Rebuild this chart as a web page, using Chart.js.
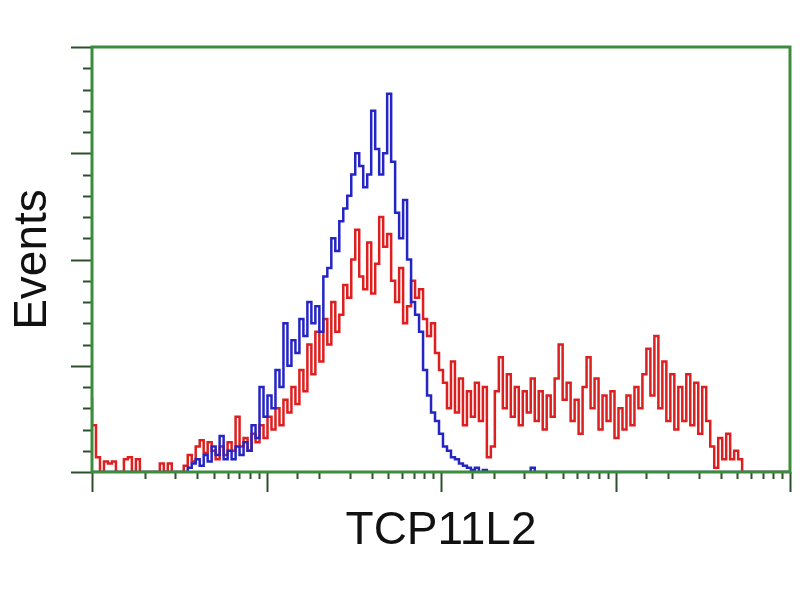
<!DOCTYPE html>
<html>
<head>
<meta charset="utf-8">
<script src="https://cdn.jsdelivr.net/npm/chart.js@4/dist/chart.umd.min.js"></script>
<style>
  html, body { margin: 0; padding: 0; background: #fff; }
  canvas { display: block; }
</style>
</head>
<body>
<canvas id="histo" width="800" height="600"></canvas>
<script>
// channel counts, 175 bins spread over 4 log decades
const redCounts = [
  35, 22, 7, 0, 5, 4, 5, 0, 0, 6,
  7, 0, 6, 0, 0, 0, 0, 0, 4, 0,
  4, 0, 0, 0, 3, 8, 5, 12, 15, 9,
  14, 10, 6, 12, 8, 14, 10, 26, 12, 16,
  10, 18, 14, 22, 16, 26, 20, 30, 22, 34,
  28, 40, 32, 48, 38, 60, 46, 66, 52, 72,
  60, 80, 66, 74, 88, 82, 100, 114, 92, 86,
  108, 84, 98, 120, 106, 112, 90, 80, 96, 70,
  78, 90, 82, 86, 72, 64, 70, 56, 48, 42,
  30, 52, 28, 44, 22, 38, 26, 42, 24, 40,
  7, 12, 38, 54, 30, 46, 26, 40, 22, 38,
  28, 44, 24, 38, 20, 36, 26, 44, 60, 34,
  42, 24, 34, 18, 40, 54, 30, 44, 20, 36,
  24, 38, 16, 30, 20, 36, 22, 40, 30, 46,
  58, 36, 64, 30, 52, 24, 46, 20, 40, 24,
  46, 22, 42, 18, 40, 24, 12, 2, 16, 6,
  18, 6, 10, 6, 0, 0, 0, 0, 0, 0,
  0, 0, 0, 0, 0
];
const blueCounts = [
  0, 0, 0, 0, 0, 0, 0, 0, 0, 0,
  0, 0, 0, 0, 0, 0, 0, 0, 0, 0,
  0, 0, 0, 0, 0, 2, 4, 6, 3, 8,
  5, 12, 8, 17, 6, 10, 6, 12, 8, 14,
  10, 22, 16, 40, 26, 36, 30, 48, 40, 70,
  50, 62, 56, 72, 64, 80, 70, 78, 66, 92,
  96, 110, 104, 118, 124, 130, 140, 150, 144, 134,
  140, 170, 152, 140, 150, 178, 146, 122, 110, 128,
  100, 80, 74, 66, 48, 36, 28, 24, 18, 12,
  10, 7, 6, 4, 3, 2, 1, 2, 0, 1,
  0, 0, 0, 0, 0, 0, 0, 0, 0, 0,
  0, 2, 0, 0, 0, 0, 0, 0, 0, 0,
  0, 0, 0, 0, 0, 0, 0, 0, 0, 0,
  0, 0, 0, 0, 0, 0, 0, 0, 0, 0,
  0, 0, 0, 0, 0, 0, 0, 0, 0, 0,
  0, 0, 0, 0, 0, 0, 0, 0, 0, 0,
  0, 0, 0, 0, 0, 0, 0, 0, 0, 0,
  0, 0, 0, 0, 0
];
const xTitle = 'TCP11L2';
const yTitle = 'Events';
const DECADES = 4;
const Y_MAX = 200;

const BINS = redCounts.length;
const binX = i => Math.pow(10, i * DECADES / BINS);
const toPoints = counts => counts.map((v, i) => ({ x: binX(i), y: v })).concat([{ x: binX(BINS), y: 0 }]);

const frameGreen = '#3b8d3b';
const tickGreen = '#2c4f2c';

// green box round the plot + longer major ticks
const framePlugin = {
  id: 'frame',
  afterDatasetsDraw(chart) {
    const { ctx, chartArea: a, scales } = chart;
    ctx.save();
    ctx.strokeStyle = tickGreen;
    ctx.lineWidth = 2;
    scales.x.ticks.forEach(t => {
      const lg = Math.log10(t.value);
      const major = Math.abs(lg - Math.round(lg)) < 1e-6;
      const px = Math.round(scales.x.getPixelForValue(t.value)) + 0.5;
      ctx.beginPath();
      ctx.moveTo(px, a.bottom);
      ctx.lineTo(px, a.bottom + (major ? 20 : 7));
      ctx.stroke();
    });
    scales.y.ticks.forEach(t => {
      const major = t.value % 50 === 0;
      const py = Math.round(scales.y.getPixelForValue(t.value)) + 0.5;
      ctx.beginPath();
      ctx.moveTo(a.left, py);
      ctx.lineTo(a.left - (major ? 21 : 9), py);
      ctx.stroke();
    });
    ctx.strokeStyle = frameGreen;
    ctx.lineWidth = 3;
    ctx.strokeRect(a.left, a.top, a.right - a.left, a.bottom - a.top);
    ctx.restore();
  }
};

new Chart(document.getElementById('histo'), {
  type: 'line',
  data: {
    datasets: [
      {
        label: 'control',
        data: toPoints(blueCounts),
        borderColor: '#2525c4',
        borderWidth: 2.5,
        stepped: 'after',
        pointRadius: 0,
        order: 1
      },
      {
        label: 'TCP11L2',
        data: toPoints(redCounts),
        borderColor: '#dd1f1f',
        borderWidth: 2.5,
        stepped: 'after',
        pointRadius: 0,
        order: 2
      }
    ]
  },
  options: {
    responsive: false,
    animation: false,
    layout: { padding: { left: 2, top: 47, right: 10, bottom: 37 } },
    plugins: { legend: { display: false }, tooltip: { enabled: false } },
    scales: {
      x: {
        type: 'logarithmic',
        min: 1,
        max: Math.pow(10, DECADES),
        grid: { display: false },
        border: { display: false },
        ticks: { display: false },
        title: {
          display: true,
          text: xTitle,
          color: '#111',
          font: { family: '"Liberation Sans", Arial, sans-serif', size: 46 }
        },
        afterFit(scale) { scale.height = 91; }
      },
      y: {
        min: 0,
        max: Y_MAX,
        grid: { display: false },
        border: { display: false },
        ticks: { display: false, stepSize: 10 },
        title: {
          display: true,
          text: yTitle,
          color: '#111',
          font: { family: '"Liberation Sans", Arial, sans-serif', size: 46 }
        },
        afterFit(scale) { scale.width = 90; }
      }
    }
  },
  plugins: [framePlugin]
});
</script>
</body>
</html>
